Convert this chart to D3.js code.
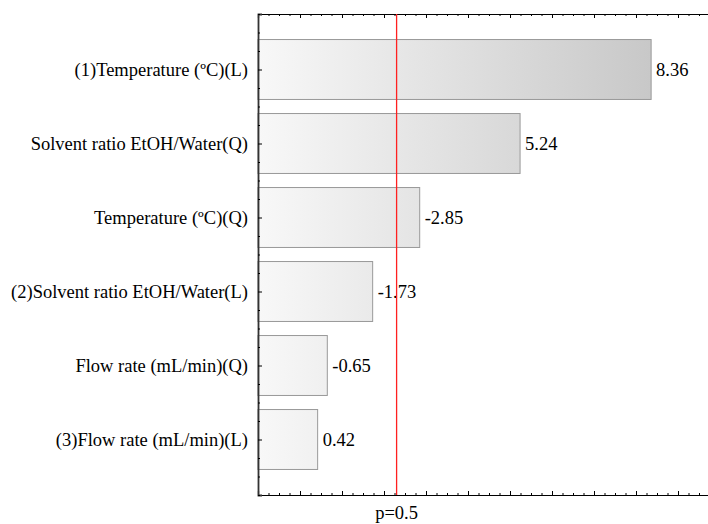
<!DOCTYPE html>
<html>
<head>
<meta charset="utf-8">
<script src="https://cdn.jsdelivr.net/npm/d3@7/dist/d3.min.js"></script>
<style>
  html, body { margin: 0; padding: 0; background: #fff; }
  svg { display: block; }
</style>
</head>
<body>
<svg id="chart" width="708" height="524"></svg>
<script>
// Data (ordered top to bottom)
const factors = [
  "(1)Temperature (ºC)(L)",
  "Solvent ratio EtOH/Water(Q)",
  "Temperature (ºC)(Q)",
  "(2)Solvent ratio EtOH/Water(L)",
  "Flow rate (mL/min)(Q)",
  "(3)Flow rate (mL/min)(L)"
];
const effects = [8.36, 5.24, -2.85, -1.73, -0.65, 0.42];
const pLabel = "p=0.5";
const pValue = 2.30;
const xDomain = [-1, 10];

(function () {
const FONT = "'Liberation Serif', 'Times New Roman', Times, serif";
const FS = 18.5;
const mLeft = 258, mTop = 14, mBottom = 495, mRight = 720;

const svg = d3.select("#chart");

const x = d3.scaleLinear().domain(xDomain).range([mLeft, mRight]);
const y = d3.scaleLinear().domain([0.25, factors.length + 0.75]).range([mTop, mBottom]);
const bandPx = y(2) - y(1);
const barH = bandPx * 0.81;

const defs = svg.append("defs");
const grad = defs.append("linearGradient")
  .attr("id", "barGrad")
  .attr("gradientUnits", "userSpaceOnUse")
  .attr("x1", x(xDomain[0])).attr("x2", x(d3.max(effects, d => Math.abs(d))))
  .attr("y1", 0).attr("y2", 0);
grad.append("stop").attr("offset", "0%").attr("stop-color", "#f8f8f8");
grad.append("stop").attr("offset", "100%").attr("stop-color", "#c8c8c8");

svg.append("g").selectAll("rect")
  .data(effects)
  .join("rect")
  .attr("x", x(xDomain[0]))
  .attr("y", (d, i) => y(i + 1) - barH / 2)
  .attr("width", d => x(Math.abs(d)) - x(xDomain[0]))
  .attr("height", barH)
  .attr("fill", "url(#barGrad)")
  .attr("stroke", "#999")
  .attr("stroke-width", 1);

svg.append("g").selectAll("text")
  .data(effects)
  .join("text")
  .attr("x", d => x(Math.abs(d)) + 5)
  .attr("y", (d, i) => y(i + 1))
  .attr("dy", "0.35em")
  .attr("font-family", FONT)
  .attr("font-size", FS)
  .attr("fill", "#000")
  .text(d => d.toFixed(2));

svg.append("g").selectAll("text")
  .data(factors)
  .join("text")
  .attr("x", mLeft - 10)
  .attr("y", (d, i) => y(i + 1))
  .attr("dy", "0.35em")
  .attr("text-anchor", "end")
  .attr("font-family", FONT)
  .attr("font-size", FS)
  .attr("fill", "#000")
  .text(d => d);

const majorX = d3.range(xDomain[0], xDomain[1] + 1, 1);
const minorX = d3.range(xDomain[0], xDomain[1] + 0.001, 0.25).filter(v => Math.abs(v - Math.round(v)) > 1e-6);

const topAxis = d3.axisBottom(x).tickValues(majorX).tickSize(4).tickFormat("");
const topMinor = d3.axisBottom(x).tickValues(minorX).tickSize(2).tickFormat("");
const botAxis = d3.axisTop(x).tickValues(majorX).tickSize(4).tickFormat("");
const botMinor = d3.axisTop(x).tickValues(minorX).tickSize(2).tickFormat("");

function styleAxis(g) {
  g.selectAll("path.domain").attr("stroke", "#000").attr("stroke-width", 1.2);
  g.selectAll(".tick line").attr("stroke", "#000");
}
svg.append("g").attr("transform", `translate(0,${mTop})`).call(topAxis).call(styleAxis);
svg.append("g").attr("transform", `translate(0,${mTop})`).call(topMinor).call(g => g.select(".domain").remove()).call(styleAxis);
svg.append("g").attr("transform", `translate(0,${mBottom})`).call(botAxis).call(styleAxis);
svg.append("g").attr("transform", `translate(0,${mBottom})`).call(botMinor).call(g => g.select(".domain").remove()).call(styleAxis);

const majorY = d3.range(1, factors.length + 1);
const minorY = d3.range(0.25, factors.length + 0.75 + 0.001, 0.25).filter(v => Math.abs(v - Math.round(v)) > 1e-6);
const leftAxis = d3.axisRight(y).tickValues(majorY).tickSize(4).tickFormat("");
const leftMinor = d3.axisRight(y).tickValues(minorY).tickSize(2).tickFormat("");
svg.append("g").attr("transform", `translate(${mLeft},0)`).call(leftAxis)
  .call(g => g.selectAll("path.domain").attr("stroke", "#333").attr("stroke-width", 1.8))
  .call(g => g.selectAll(".tick line").attr("stroke", "#000"));
svg.append("g").attr("transform", `translate(${mLeft},0)`).call(leftMinor)
  .call(g => g.select(".domain").remove())
  .call(g => g.selectAll(".tick line").attr("stroke", "#000"));

svg.append("line")
  .attr("x1", x(pValue)).attr("x2", x(pValue))
  .attr("y1", mTop).attr("y2", mBottom)
  .attr("stroke", "#ff2020").attr("stroke-width", 1.3);

svg.append("text")
  .attr("x", x(pValue))
  .attr("y", 519)
  .attr("text-anchor", "middle")
  .attr("font-family", FONT)
  .attr("font-size", FS)
  .attr("fill", "#000")
  .text(pLabel);
})();
</script>
</body>
</html>
